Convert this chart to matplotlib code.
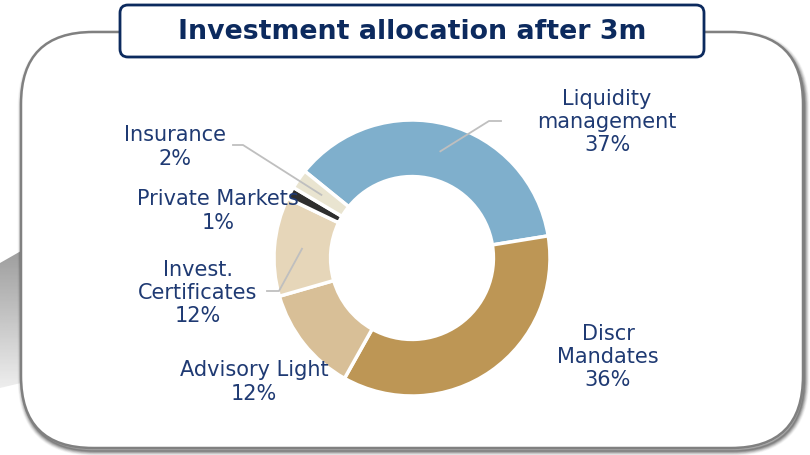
import matplotlib
matplotlib.use("Agg")
import numpy as np
import matplotlib.pyplot as plt
from matplotlib.patches import FancyBboxPatch, Polygon

# ─── Datos ────────────────────────────────────────────────────────────────────
labels = ["Liquidity\nmanagement", "Discr\nMandates", "Advisory Light",
          "Invest.\nCertificates", "Private Markets", "Insurance"]
values = [36.6, 35.7, 12.4, 11.6, 1.4, 2.3]
colors = ["#7FAFCC", "#BD9655", "#D8BF97", "#E6D6B9", "#2E2E2E", "#E9E4D0"]
title = "Investment allocation after 3m"

# posiciones de etiquetas (px) y codos de las líneas guía
label_pos = [(607, 122), (608, 357), (254, 382), (198, 293), (218, 211), (175, 147)]
leaders = {0: [(489, 121), (501, 121)], 3: [(279, 291), (267, 291)], 5: [(243, 145), (233, 145)]}

NAVY = "#1F3A73"
TITLE_NAVY = "#0C2A5E"
W, H = 810, 455
CX, CY, R = 412, 258, 138

fig = plt.figure(figsize=(W / 100, H / 100), dpi=100)

# ─── Fondo: caja redondeada, sombra, cuña gris ───────────────────────────────
bg = fig.add_axes([0, 0, 1, 1], zorder=0)
bg.set_xlim(0, W)
bg.set_ylim(H, 0)
bg.axis("off")

# cuña gris con degradado a la izquierda
wedge_poly = Polygon([(0, 263), (21, 251), (21, 383), (0, 388)], closed=True,
                     facecolor="none", edgecolor="none")
bg.add_patch(wedge_poly)
grad = np.linspace(0.62, 0.93, 100).reshape(-1, 1)
im = bg.imshow(grad, extent=(0, 22, 388, 251), cmap="gray", vmin=0, vmax=1,
               aspect="auto", zorder=1)
im.set_clip_path(wedge_poly)

# sombra difusa (abajo a la derecha)
for k, a in zip(range(7, 0, -1), [0.03, 0.05, 0.07, 0.09, 0.11, 0.13, 0.15]):
    sh = FancyBboxPatch((22.5, 35), 782, 416,
                        boxstyle="round,pad=0,rounding_size=72",
                        facecolor="none", edgecolor="black", linewidth=k,
                        alpha=a, zorder=2)
    bg.add_patch(sh)

box = FancyBboxPatch((21, 32), 782, 416, boxstyle="round,pad=0,rounding_size=72",
                     facecolor="white", edgecolor="#808080", linewidth=1.8, zorder=3)
bg.add_patch(box)

tbox = FancyBboxPatch((120, 5), 584, 52, boxstyle="round,pad=0,rounding_size=8",
                      facecolor="white", edgecolor=TITLE_NAVY, linewidth=2.0, zorder=4)
bg.add_patch(tbox)
bg.text(412, 32, title, ha="center", va="center", fontsize=19.3, fontweight="bold",
        color=TITLE_NAVY, zorder=5)

# ─── Donut ────────────────────────────────────────────────────────────────────
pie_ax = fig.add_axes([(CX - R) / W, (H - CY - R) / H, 2 * R / W, 2 * R / H], zorder=1)
wedges, _ = pie_ax.pie(values, colors=colors, startangle=141, counterclock=False,
                       radius=1.0,
                       wedgeprops=dict(width=0.41, edgecolor="white", linewidth=2.5))
pie_ax.set_xlim(-1, 1)
pie_ax.set_ylim(-1, 1)
pie_ax.set_aspect("equal")
pie_ax.axis("off")

# ─── Etiquetas y líneas guía ──────────────────────────────────────────────────
ov = fig.add_axes([0, 0, 1, 1], zorder=2)
ov.set_xlim(0, W)
ov.set_ylim(H, 0)
ov.axis("off")
ov.patch.set_alpha(0)

total = sum(values)
for i, (lab, v) in enumerate(zip(labels, values)):
    x, y = label_pos[i]
    ov.text(x, y, f"{lab}\n{round(v / total * 100):.0f}%", ha="center", va="center",
            fontsize=15, color=NAVY, linespacing=1.2)
    if i in leaders:
        w = wedges[i]
        mid = np.deg2rad((w.theta1 + w.theta2) / 2)
        ax0 = CX + 0.8 * R * np.cos(mid)
        ay0 = CY - 0.8 * R * np.sin(mid)
        pts = [(ax0, ay0)] + leaders[i]
        ov.plot([p[0] for p in pts], [p[1] for p in pts], color="#BFBFBF", lw=1.3)

fig.savefig("out.png", dpi=100, facecolor="white")
